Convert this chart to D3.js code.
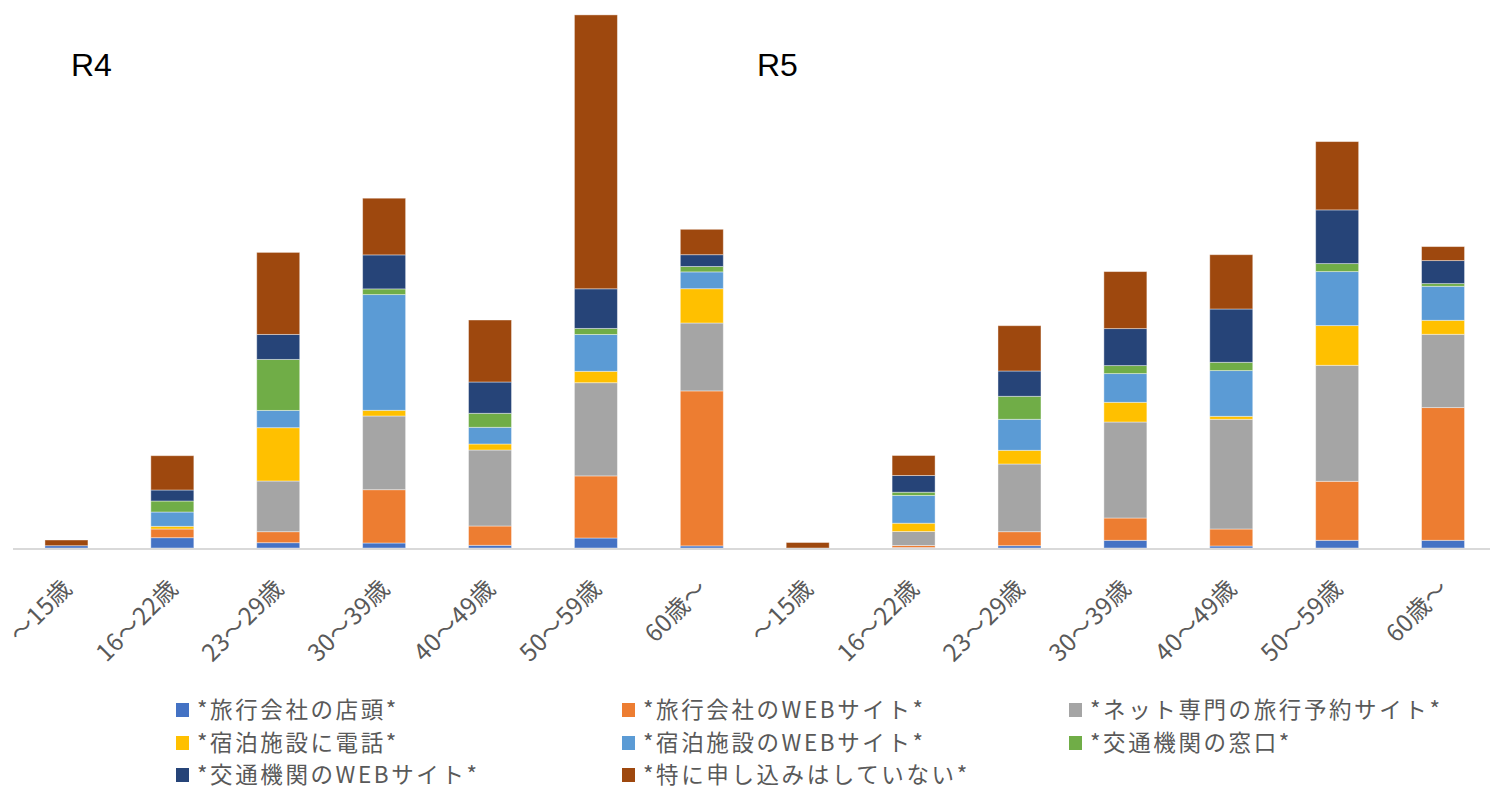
<!DOCTYPE html>
<html><head><meta charset="utf-8">
<script src="https://cdn.jsdelivr.net/npm/d3@7"></script>
<style>html,body{margin:0;padding:0;background:#fff;overflow:hidden}</style>
</head><body>
<svg id="chart" width="1490" height="789"></svg>
<script>
const ageGroups = ["～15歳","16～22歳","23～29歳","30～39歳","40～49歳","50～59歳","60歳～"];
const periods = ["R4","R5"];
const seriesNames = ["*旅行会社の店頭*","*旅行会社のWEBサイト*","*ネット専門の旅行予約サイト*","*宿泊施設に電話*","*宿泊施設のWEBサイト*","*交通機関の窓口*","*交通機関のWEBサイト*","*特に申し込みはしていない*"];
const seriesColors = ["#4472C4","#ED7D31","#A5A5A5","#FFC000","#5B9BD5","#70AD47","#264478","#9E480E"];
// values: R4 (7 age groups) then R5 (7 age groups)
const shopFront        = [2.3, 10.3, 5.3, 5, 2.7, 10, 2.1,      0, 0.5, 2.3, 7.7, 2, 7.7, 7.7];
const agencyWeb        = [0, 8.7, 11, 53.3, 19.3, 62.1, 155,     0, 2, 14, 22.3, 17, 59, 132.7];
const netSites         = [0, 0, 50.7, 73.7, 76, 93.2, 67.9,      0, 14, 67.7, 96, 109.7, 116, 73.3];
const hotelPhone       = [0, 2.7, 53.3, 5.7, 6, 11.4, 34.3,      0, 8.3, 13.7, 19.7, 3, 39.7, 14];
const hotelWeb         = [0, 14.3, 17.3, 115.7, 16.7, 36.8, 16.8, 0, 27.7, 31, 28.7, 45.7, 54, 34];
const transportCounter = [0, 11, 51, 5.7, 14, 6.1, 5.4,          0, 3.3, 23, 8, 8.3, 8, 2.7];
const transportWeb     = [0, 11, 25, 34, 31.3, 39.6, 11.8,       0, 16.7, 25.3, 37, 53.3, 53.7, 23];
const noApplication    = [5.7, 34.3, 82, 56.7, 62, 273.9, 25.4,  5.5, 20, 45.3, 57, 54.3, 68.3, 14];

const seriesValues = [shopFront, agencyWeb, netSites, hotelPhone, hotelWeb, transportCounter, transportWeb, noApplication];
const keys = seriesNames.map((_, i) => "s" + i);
const rows = [];
periods.forEach((p, pi) => ageGroups.forEach((a, ai) => {
  const idx = pi * ageGroups.length + ai;
  const row = {id: p + "_" + a, label: a};
  keys.forEach((k, si) => row[k] = seriesValues[si][idx]);
  rows.push(row);
}));

const svg = d3.select("#chart");
const x = d3.scaleBand().domain(rows.map(r => r.id)).range([13.5, 1496]).paddingInner(0.594).paddingOuter(0.297);
const y = d3.scaleLinear().domain([0, 534]).range([548, 14]);
const stacked = d3.stack().keys(keys)(rows);

svg.append("g").selectAll("g").data(stacked).join("g")
  .attr("fill", (d, i) => seriesColors[i])
  .selectAll("rect").data(d => d).join("rect")
  .attr("x", d => x(d.data.id))
  .attr("width", x.bandwidth())
  .attr("y", d => y(d[1]))
  .attr("height", d => Math.max(0, y(d[0]) - y(d[1])))
  .attr("stroke", "#ffffff").attr("stroke-opacity", 0.45).attr("stroke-width", 0.9);

// category axis line
svg.append("line").attr("x1", 13).attr("x2", 1490).attr("y1", 549).attr("y2", 549)
  .attr("stroke", "#D9D9D9").attr("stroke-width", 2);

// rotated tick labels
svg.append("g").selectAll("text").data(rows).join("text")
  .attr("transform", d => `translate(${x(d.id) + x.bandwidth() / 2 + 7},${590}) rotate(-45)`)
  .attr("text-anchor", "end")
  .attr("font-family", "'Noto Sans CJK JP', 'Noto Sans', sans-serif")
  .attr("font-size", 24).attr("letter-spacing", 0.3).attr("fill", "#595959")
  .text(d => d.label);

// period labels
const periodX = [71, 757];
svg.append("g").selectAll("text").data(periods).join("text")
  .attr("x", (d, i) => periodX[i]).attr("y", 76)
  .attr("font-family", "'Liberation Sans', Arial, sans-serif")
  .attr("font-size", 32).attr("fill", "#000")
  .text(d => d);

// legend
const legendCols = [176, 622, 1069];
const legendRows = [710, 743, 775];
const lg = svg.append("g").selectAll("g").data(seriesNames).join("g")
  .attr("transform", (d, i) => `translate(${legendCols[i % 3]},${legendRows[Math.floor(i / 3)]})`);
lg.append("rect").attr("x", 0).attr("y", -7).attr("width", 13).attr("height", 14)
  .attr("fill", (d, i) => seriesColors[i]);
lg.append("text").attr("x", 21).attr("y", 0).attr("dy", "0.35em")
  .attr("font-family", "'Noto Sans CJK JP', 'Noto Sans', sans-serif")
  .attr("font-size", 22.5).attr("letter-spacing", 2.6).attr("fill", "#595959")
  .text(d => d);
</script>
</body></html>
